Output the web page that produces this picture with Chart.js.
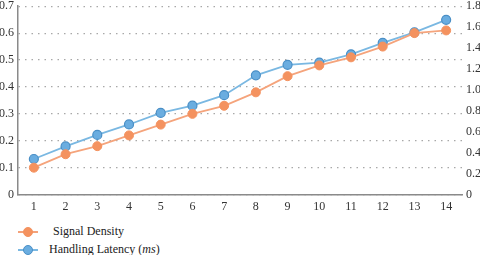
<!DOCTYPE html>
<html>
<head>
<meta charset="utf-8">
<script src="https://cdn.jsdelivr.net/npm/chart.js@4"></script>
<style>
  body { margin: 0; background: #fff; font-family: "Liberation Serif", serif; overflow: hidden; }
  #wrap { position: absolute; left: 0; top: -5px; width: 486px; height: 224px; }
  .legend { position: absolute; left: 18px; font-size: 12px; color: #222; display: flex; align-items: center; }
  .mark { position: relative; width: 20px; height: 10px; margin-right: 11px; }
  .mark .ln { position: absolute; left: 0; right: 0; top: 4px; height: 2px; }
  .mark .dot { position: absolute; left: 5px; top: 0; width: 8px; height: 8px; border-radius: 50%; }
</style>
</head>
<body>
<div id="wrap"><canvas id="grafico"></canvas></div>
<div class="legend" style="top:224px">
  <div class="mark"><div class="ln" style="background:#f4a27a"></div><div class="dot" style="background:#f4925f;border:1px solid #f4925f"></div></div>
  <span style="margin-left:4px">Signal Density</span>
</div>
<div class="legend" style="top:242px">
  <div class="mark"><div class="ln" style="background:#7ab8e2"></div><div class="dot" style="background:#6aade0;border:1px solid #4a8fc6"></div></div>
  <span>Handling Latency (<i>ms</i>)</span>
</div>
<script>
const categorias = ['1', '2', '3', '4', '5', '6', '7', '8', '9', '10', '11', '12', '13', '14'];
const densidade = [0.10, 0.15, 0.18, 0.22, 0.26, 0.30, 0.33, 0.38, 0.44, 0.48, 0.51, 0.55, 0.60, 0.61];
const latencia = [0.34, 0.46, 0.57, 0.67, 0.78, 0.85, 0.95, 1.14, 1.24, 1.26, 1.34, 1.45, 1.55, 1.67];

const fonte = { family: '"Liberation Serif", serif', size: 12 };

const ctx = document.getElementById('grafico').getContext('2d');

const grafico = new Chart(ctx, {
  type: 'line',
  data: {
    labels: categorias,
    datasets: [{
      label: 'Signal Density',
      data: densidade,
      yAxisID: 'y',
      borderColor: '#f5a47c',
      backgroundColor: '#f4925f',
      pointBorderColor: '#f4925f',
      borderWidth: 1.8,
      pointRadius: 4.5,
      pointBorderWidth: 1,
      tension: 0
    }, {
      label: 'Handling Latency (ms)',
      data: latencia,
      yAxisID: 'y1',
      borderColor: '#7ab8e2',
      backgroundColor: '#6aade0',
      pointBorderColor: '#4a8fc6',
      borderWidth: 1.8,
      pointRadius: 4.5,
      pointBorderWidth: 1.2,
      tension: 0
    }]
  },
  options: {
    responsive: true,
    maintainAspectRatio: false,
    animation: false,
    layout: { padding: 0 },
    plugins: {
      legend: { display: false },
      tooltip: { enabled: false }
    },
    scales: {
      x: {
        offset: true,
        grid: { display: false, drawTicks: false },
        border: { display: true, color: '#8a8a8a', width: 1.5 },
        ticks: { color: '#333', font: fonte, padding: 5 }
      },
      y: {
        position: 'left',
        min: 0,
        max: 0.7,
        afterFit: (eixo) => { eixo.width = 18; },
        ticks: { stepSize: 0.1, color: '#333', font: fonte, padding: 4 },
        grid: { color: '#a8a8a8', lineWidth: 1.2, drawTicks: false },
        border: { display: true, color: '#8a8a8a', width: 1.5, dash: [1.5, 5] }
      },
      y1: {
        position: 'right',
        min: 0,
        max: 1.8,
        afterFit: (eixo) => { eixo.width = 24; },
        ticks: { stepSize: 0.2, color: '#333', font: fonte, padding: 4 },
        grid: { display: false, drawTicks: false },
        border: { display: false }
      }
    }
  }
});
</script>
</body>
</html>
